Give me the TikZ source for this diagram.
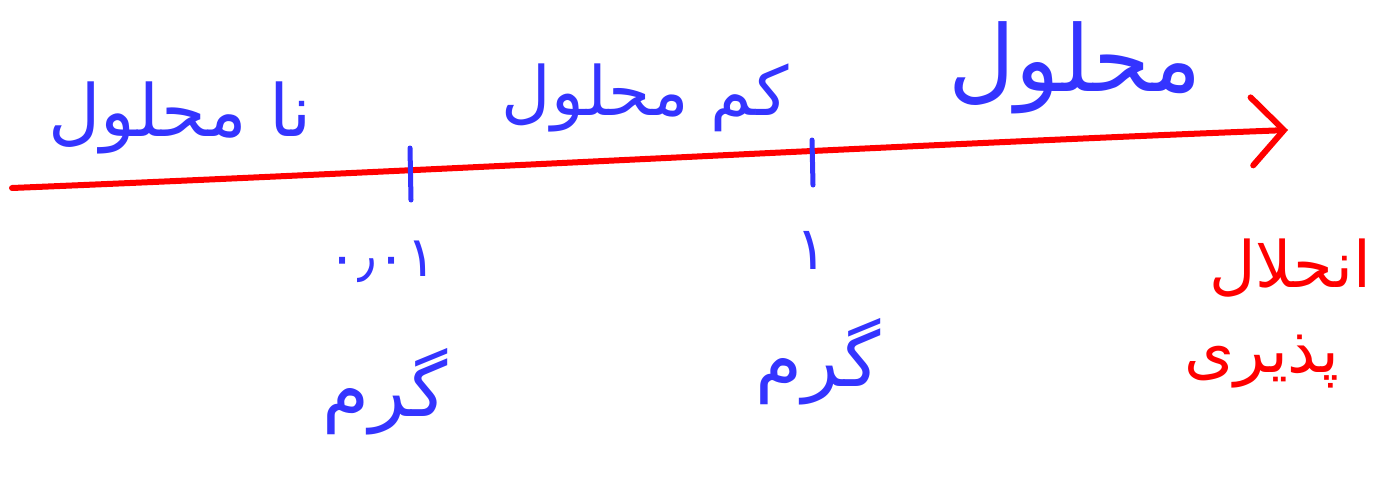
\documentclass[tikz,border=0pt]{standalone}
\usepackage{fontspec}
\newfontfamily\farsi[Script=Arabic]{DejaVu Sans}
\TeXXeTstate=1
\usetikzlibrary{arrows.meta}
\definecolor{inkblue}{RGB}{52,52,255}
\definecolor{inkred}{RGB}{255,0,0}
\tikzset{word/.style = {text=inkblue, inner sep=0, font=\farsi}}
\tikzset{tickmark/.style = {draw=inkblue, line width=2.5pt, line cap=round}}

\begin{document}
\begin{tikzpicture}[x=0.5pt,y=-0.5pt]
  \useasboundingbox (0,0) rectangle (1376,487);

  % axis
  \coordinate (start) at (12,188);
  \coordinate (end) at (1288,130);
  \draw[inkred, line width=3pt, line cap=round,
        -{Straight Barb[length=16pt,width=34pt,line cap=round]}]
        (start) .. controls (450,170) and (900,145) .. (end);

  % ticks
  \coordinate (a1) at (410,148);
  \coordinate (a2) at (411,200);
  \coordinate (b1) at (812,140);
  \coordinate (b2) at (813,185);
  \draw[tickmark] (a1) -- (a2);
  \draw[tickmark] (b1) -- (b2);

  % regions
  \node[word, font=\farsi\fontsize{36}{40}\selectfont] (insol) at (180,118) {\beginR نا محلول\endR};
  \node[word, font=\farsi\fontsize{34}{38}\selectfont] (slight) at (645,98) {\beginR کم محلول\endR};
  \node[word, font=\farsi\fontsize{46}{50}\selectfont] (sol) at (1075,68) {\beginR محلول\endR};

  % values
  \node[word, font=\farsi\fontsize{28}{32}\selectfont] (v1) at (382,262) {۰٫۰۱};
  \node[word, font=\farsi\fontsize{38}{42}\selectfont] (g1) at (385,392) {\beginR گرم\endR};
  \node[word, font=\farsi\fontsize{30}{34}\selectfont] (v2) at (812,250) {۱};
  \node[word, font=\farsi\fontsize{38}{42}\selectfont] (g2) at (818,362) {\beginR گرم\endR};

  % axis name
  \node[word, text=inkred, font=\farsi\fontsize{32}{36}\selectfont] (name1) at (1290,268) {\beginR انحلال\endR};
  \node[word, text=inkred, font=\farsi\fontsize{32}{36}\selectfont] (name2) at (1262,362) {\beginR پذیری\endR};
\end{tikzpicture}
\end{document}
